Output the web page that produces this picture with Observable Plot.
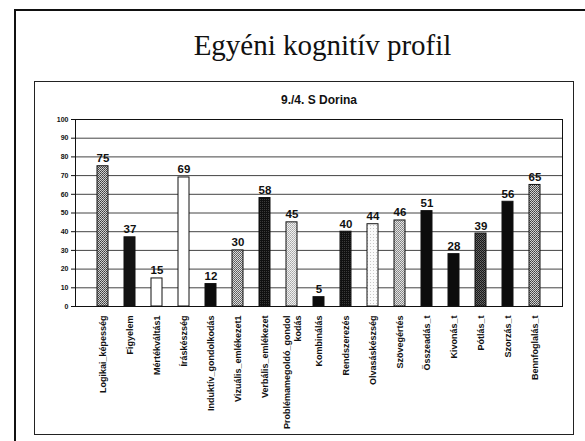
<!DOCTYPE html>
<html><head><meta charset="utf-8">
<script src="https://cdn.jsdelivr.net/npm/d3@7"></script>
<script src="https://cdn.jsdelivr.net/npm/@observablehq/plot@0.6"></script>
<style>
html,body{margin:0;padding:0;background:#fff;width:585px;height:441px;overflow:hidden;position:relative}
#outer{position:absolute;left:14px;top:9px;width:640px;height:520px;border:2px solid #111;box-sizing:border-box}
#title{position:absolute;left:0;width:645px;top:31px;text-align:center;font:29px/29px "Liberation Serif","Times New Roman",serif;color:#111}
#chart{position:absolute;left:34px;top:81px}
#box{position:absolute;left:34px;top:81px;width:540px;height:354px;border:1px solid #222;box-sizing:border-box;pointer-events:none}
</style></head>
<body>
<svg width="0" height="0" style="position:absolute">
  <defs>
    <pattern id="chkMid" width="2" height="2" patternUnits="userSpaceOnUse"><rect width="2" height="2" fill="#cfcfcf"/><rect width="1" height="1" fill="#3c3c3c"/><rect x="1" y="1" width="1" height="1" fill="#5a5a5a"/></pattern>
    <pattern id="chkMid2" width="2" height="2" patternUnits="userSpaceOnUse"><rect width="2" height="2" fill="#dedede"/><rect width="1" height="1" fill="#5a5a5a"/><rect x="1" y="1" width="1" height="1" fill="#6a6a6a"/></pattern>
    <pattern id="chkDark" width="2" height="2" patternUnits="userSpaceOnUse"><rect width="2" height="2" fill="#101010"/><rect width="1" height="1" fill="#3a3a3a"/></pattern>
    <pattern id="chkDark2" width="2" height="2" patternUnits="userSpaceOnUse"><rect width="2" height="2" fill="#1a1a1a"/><rect width="1" height="1" fill="#6a6a6a"/><rect x="1" y="1" width="1" height="1" fill="#555"/></pattern>
    <pattern id="chkLight" width="2" height="2" patternUnits="userSpaceOnUse"><rect width="2" height="2" fill="#f0f0f0"/><rect width="1" height="1" fill="#a8a8a8"/><rect x="1" y="1" width="1" height="1" fill="#b8b8b8"/></pattern>
    <pattern id="chkLight2" width="2" height="2" patternUnits="userSpaceOnUse"><rect width="2" height="2" fill="#e4e4e4"/><rect width="1" height="1" fill="#808080"/><rect x="1" y="1" width="1" height="1" fill="#909090"/></pattern>
    <pattern id="chkVeryLight" width="3" height="3" patternUnits="userSpaceOnUse"><rect width="3" height="3" fill="#fbfbfb"/><rect width="1" height="1" fill="#c8c8c8"/></pattern>
  </defs>
</svg>
<div id="outer"></div>
<div id="title">Egyéni kognitív profil</div>
<div id="chart"></div>
<div id="box"></div>
<script>
const subtitle = "9./4. S Dorina";
const categories = ["Logikai_képesség","Figyelem","Mértékváltás1","Íráskészség","Induktív_gondolkodás","Vizuális_emlékezet1","Verbális_emlékezet","Problémamegoldó_gondolkodás","Kombinálás","Rendszerezés","Olvasáskészség","Szövegértés","Összeadás_t","Kivonás_t","Pótlás_t","Szorzás_t","Bennfoglalás_t"];
const tickLabels = ["Logikai_képesség","Figyelem","Mértékváltás1","Íráskészség","Induktív_gondolkodás","Vizuális_emlékezet1","Verbális_emlékezet","Problémamegoldó_gondol\nkodás","Kombinálás","Rendszerezés","Olvasáskészség","Szövegértés","Összeadás_t","Kivonás_t","Pótlás_t","Szorzás_t","Bennfoglalás_t"];
const values = [75,37,15,69,12,30,58,45,5,40,44,46,51,28,39,56,65];
const yTicks = [0,10,20,30,40,50,60,70,80,90,100];
// bar fill styles (scan textures)
const fills = ["url(#chkMid)","#141414","#ffffff","#ffffff","#0c0c0c","url(#chkMid2)","url(#chkDark)","url(#chkLight)","#0c0c0c","url(#chkDark)","url(#chkVeryLight)","url(#chkLight2)","#0c0c0c","#0c0c0c","url(#chkDark2)","#0c0c0c","url(#chkMid)"];

const data = categories.map((c, i) => ({cat: c, label: tickLabels[i], value: values[i], fill: fills[i]}));

const chart = Plot.plot({
  width: 539,
  height: 353,
  marginLeft: 41,
  marginRight: 11,
  marginTop: 38,
  marginBottom: 128,
  style: {fontFamily: "'Liberation Sans', Arial, sans-serif", background: "transparent"},
  x: {domain: categories, padding: 0.58, axis: null},
  y: {domain: [0, 100], axis: null},
  color: {type: "identity"},
  marks: [
    Plot.gridY(yTicks, {stroke: "#444", strokeOpacity: 1, strokeWidth: 1}),
    Plot.axisY(yTicks, {label: null, tickSize: 4, tickPadding: 3, fontSize: 7, fontWeight: "bold", stroke: "#111", strokeOpacity: 1, fill: "#111", tickFormat: d => String(d)}),
    Plot.barY(data, {x: "cat", y: "value", fill: "fill", stroke: "#111", strokeWidth: 1}),
    Plot.frame({stroke: "#111", strokeWidth: 1}),
    Plot.text(data, {x: "cat", y: "value", text: d => String(d.value), dy: -4, lineAnchor: "bottom", fontSize: 11.5, fontWeight: "bold", fill: "#111"}),
    Plot.text(data, {x: "cat", y: () => 0, text: "label", rotate: -90, textAnchor: "end", lineAnchor: "middle", dy: 9, fontSize: 9, fontWeight: "bold", fill: "#111", lineHeight: 1.2}),
    Plot.text([subtitle], {frameAnchor: "top", text: d => d, dy: -19, lineAnchor: "middle", fontSize: 12, fontWeight: "bold", fill: "#111"})
  ]
});
document.getElementById("chart").appendChild(chart);
</script>
</body></html>
